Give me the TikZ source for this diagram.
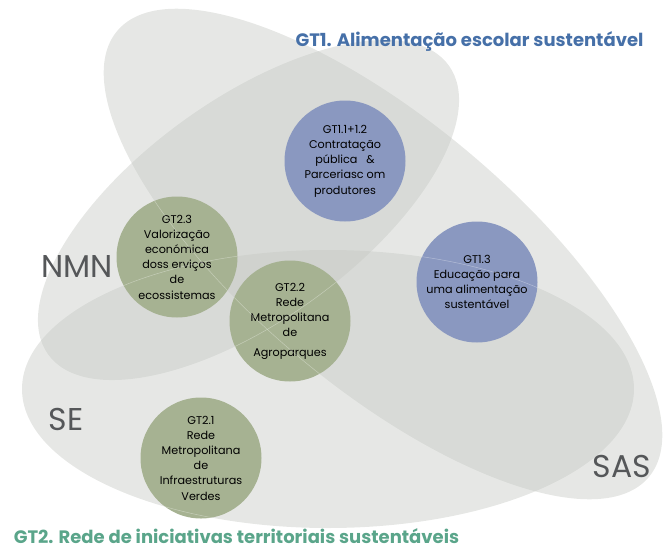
\documentclass[tikz,border=0pt]{standalone}
\usepackage{fontspec}
\setmainfont{Poppins}
\definecolor{zonegray}{RGB}{196,199,194}
\definecolor{gtblue}{RGB}{138,152,192}
\definecolor{gtgreen}{RGB}{166,178,146}
\definecolor{titleblue}{RGB}{70,112,168}
\definecolor{titlegreen}{RGB}{90,165,138}
\definecolor{zonelabel}{RGB}{85,87,89}
\begin{document}
\begin{tikzpicture}[x=1pt,y=-1pt,
  zone/.style={fill=zonegray, fill opacity=0.42},
  zoneedge/.style={draw=white, draw opacity=0.35, line width=0.5pt},
  gtcircle/.style={circle, minimum size=121pt, inner sep=0pt, align=center,
    text=black, font=\fontsize{11.2}{15.2}\selectfont},
  bluecircle/.style={gtcircle, fill=gtblue},
  greencircle/.style={gtcircle, fill=gtgreen},
  zonename/.style={text=zonelabel, font=\fontsize{31.5}{31.5}\selectfont, inner sep=0pt},
  gttitle/.style={font=\fontsize{18}{19}\selectfont\bfseries, inner sep=0pt}
]
\useasboundingbox (0,0) rectangle (664,549);
% zones
\fill[zone, rotate around={-40:(383,254)}] (383,254) ellipse [x radius=347, y radius=133];
\fill[zone, rotate around={35.8:(248.5,210)}] (248.5,210) ellipse [x radius=247, y radius=110.5];
\fill[zone] (328,389) ellipse [x radius=306, y radius=139];
% circles
\node[bluecircle] (gt11) at (345,161) {GT1.1+1.2\\Contratação\\pública\ \ \ \&\\Parceriasc om\\produtores};
\node[bluecircle] (gt13) at (477,282) {GT1.3\\Educação para\\uma alimentação\\sustentável};
\node[greencircle] (gt23) at (177,257) {GT2.3\\Valorização\\económica\\doss erviços\\de\\ecossistemas};
\node[greencircle] (gt22) at (290,321) {GT2.2\\Rede\\Metropolitana\\de\\[4pt]Agroparques};
\node[greencircle] (gt21) at (201,458) {GT2.1\\Rede\\Metropolitana\\de\\Infraestruturas\\Verdes};
% faint zone edges seen only across the circles
\begin{scope}
  \clip (345,161) circle [radius=60.5] (477,282) circle [radius=60.5]
        (177,257) circle [radius=60.5] (290,321) circle [radius=60.5]
        (201,458) circle [radius=60.5];
  \draw[zoneedge, rotate around={-40:(383,254)}] (383,254) ellipse [x radius=347, y radius=133];
  \draw[zoneedge, rotate around={35.8:(248.5,210)}] (248.5,210) ellipse [x radius=247, y radius=110.5];
  \draw[zoneedge] (328,389) ellipse [x radius=306, y radius=139];
\end{scope}
% zone names
\node[zonename] (nmn) at (77,267) {NMN};
\node[zonename] (se) at (66,419) {SE};
\node[zonename] (sas) at (622,466) {SAS};
% titles
\node[gttitle, text=titleblue] (t1) at (469.5,41) {GT1. Alimentação escolar sustentável};
\node[gttitle, text=titlegreen] (t2) at (236.5,536) {GT2. Rede de iniciativas territoriais sustentáveis};
\end{tikzpicture}
\end{document}
